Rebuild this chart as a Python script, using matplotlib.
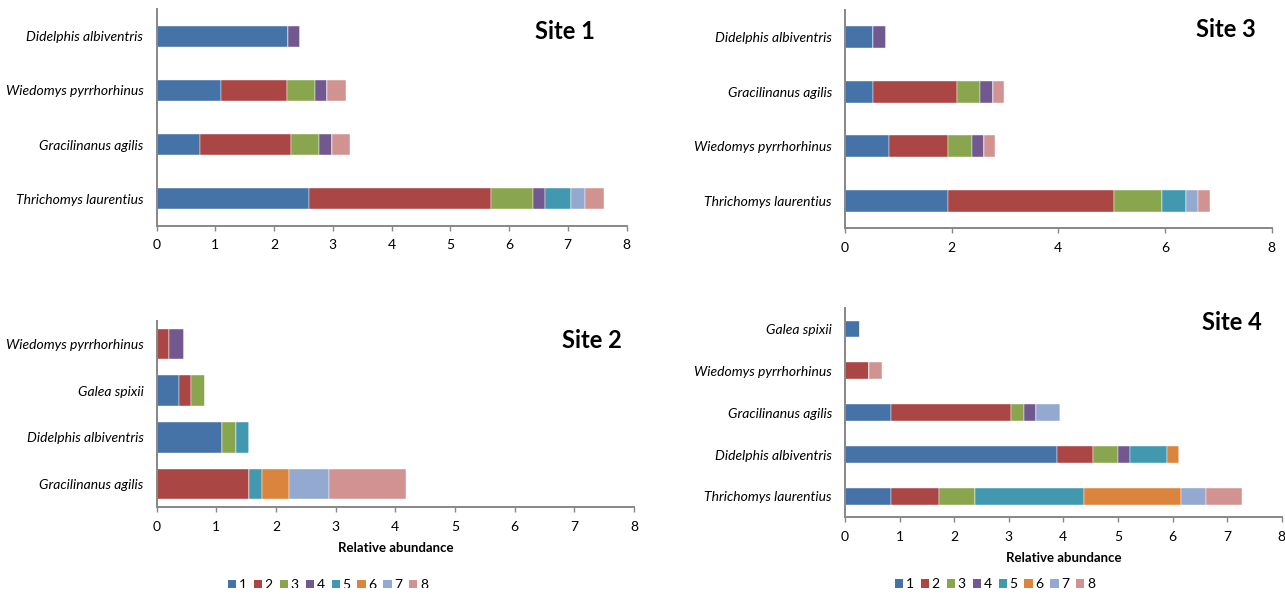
import matplotlib
matplotlib.use("Agg")
import matplotlib.pyplot as plt
from matplotlib.patches import Patch, Rectangle

plt.rcParams['font.family'] = ['Lato', 'DejaVu Sans']

W, H = 1285, 594
colors = ['#4572A7', '#AA4643', '#89A54E', '#71588F', '#4198AF', '#DB843D', '#93A9CF', '#D19392']
series_names = ['1', '2', '3', '4', '5', '6', '7', '8']

# ---- Site 1 (categories listed bottom to top) ----
site1_cats = ['Thrichomys laurentius', 'Gracilinanus agilis', 'Wiedomys pyrrhorhinus', 'Didelphis albiventris']
site1_s1 = [2.59, 0.74, 1.10, 2.23]
site1_s2 = [3.11, 1.55, 1.12, 0.00]
site1_s3 = [0.71, 0.47, 0.47, 0.00]
site1_s4 = [0.21, 0.22, 0.22, 0.21]
site1_s5 = [0.43, 0.00, 0.00, 0.00]
site1_s6 = [0.00, 0.00, 0.00, 0.00]
site1_s7 = [0.24, 0.00, 0.00, 0.00]
site1_s8 = [0.33, 0.32, 0.32, 0.00]

# ---- Site 3 ----
site3_cats = ['Thrichomys laurentius', 'Wiedomys pyrrhorhinus', 'Gracilinanus agilis', 'Didelphis albiventris']
site3_s1 = [1.94, 0.82, 0.53, 0.53]
site3_s2 = [3.11, 1.12, 1.57, 0.00]
site3_s3 = [0.90, 0.44, 0.44, 0.00]
site3_s4 = [0.00, 0.22, 0.23, 0.24]
site3_s5 = [0.45, 0.00, 0.00, 0.00]
site3_s6 = [0.00, 0.00, 0.00, 0.00]
site3_s7 = [0.22, 0.00, 0.00, 0.00]
site3_s8 = [0.22, 0.22, 0.22, 0.00]

# ---- Site 2 ----
site2_cats = ['Gracilinanus agilis', 'Didelphis albiventris', 'Galea spixii', 'Wiedomys pyrrhorhinus']
site2_s1 = [0.00, 1.10, 0.37, 0.00]
site2_s2 = [1.54, 0.00, 0.21, 0.21]
site2_s3 = [0.00, 0.23, 0.23, 0.00]
site2_s4 = [0.00, 0.00, 0.00, 0.24]
site2_s5 = [0.23, 0.22, 0.00, 0.00]
site2_s6 = [0.44, 0.00, 0.00, 0.00]
site2_s7 = [0.67, 0.00, 0.00, 0.00]
site2_s8 = [1.30, 0.00, 0.00, 0.00]

# ---- Site 4 ----
site4_cats = ['Thrichomys laurentius', 'Didelphis albiventris', 'Gracilinanus agilis', 'Wiedomys pyrrhorhinus', 'Galea spixii']
site4_s1 = [0.84, 3.89, 0.84, 0.00, 0.28]
site4_s2 = [0.89, 0.66, 2.21, 0.44, 0.00]
site4_s3 = [0.66, 0.46, 0.23, 0.00, 0.00]
site4_s4 = [0.00, 0.21, 0.22, 0.00, 0.00]
site4_s5 = [1.99, 0.67, 0.00, 0.00, 0.00]
site4_s6 = [1.78, 0.22, 0.00, 0.00, 0.00]
site4_s7 = [0.45, 0.00, 0.44, 0.00, 0.00]
site4_s8 = [0.67, 0.00, 0.00, 0.23, 0.00]

sites = [
    dict(title='Site 1', cats=site1_cats,
         series=[site1_s1, site1_s2, site1_s3, site1_s4, site1_s5, site1_s6, site1_s7, site1_s8],
         rect=(156.5, 626.5, 9.3, 225.7), step=1, height=0.4, xlabel=False, legend=False,
         title_xy=(565, 31.5)),
    dict(title='Site 3', cats=site3_cats,
         series=[site3_s1, site3_s2, site3_s3, site3_s4, site3_s5, site3_s6, site3_s7, site3_s8],
         rect=(845, 1271.5, 10, 228), step=2, height=0.4, xlabel=False, legend=False,
         title_xy=(1226, 29.5)),
    dict(title='Site 2', cats=site2_cats,
         series=[site2_s1, site2_s2, site2_s3, site2_s4, site2_s5, site2_s6, site2_s7, site2_s8],
         rect=(156.7, 634, 320.7, 507.3), step=1, height=0.66, xlabel=True, legend=True,
         title_xy=(592, 340.5), legend_xy=(328, 585)),
    dict(title='Site 4', cats=site4_cats,
         series=[site4_s1, site4_s2, site4_s3, site4_s4, site4_s5, site4_s6, site4_s7, site4_s8],
         rect=(845, 1281.7, 308, 517.3), step=1, height=0.4, xlabel=True, legend=True,
         title_xy=(1232, 322), legend_xy=(995, 584)),
]

fig = plt.figure(figsize=(W / 100, H / 100), dpi=100)
spine_col = '#878787'

for s in sites:
    l, r, t, b = s['rect']
    ax = fig.add_axes([l / W, 1 - b / H, (r - l) / W, (b - t) / H])
    ypos = list(range(len(s['cats'])))
    left = [0.0] * len(ypos)
    for i, vals in enumerate(s['series']):
        ax.barh(ypos, vals, left=left, height=s['height'], color=colors[i],
                edgecolor='white', linewidth=0.3, label=series_names[i])
        left = [a + v for a, v in zip(left, vals)]
    ax.set_xlim(0, 8)
    ax.set_ylim(-0.5, len(ypos) - 0.5)
    ax.set_xticks(range(0, 9, s['step']))
    ax.set_yticks(ypos)
    ax.set_yticklabels(s['cats'], fontstyle='italic', fontsize=10)
    for sp in ['top', 'right']:
        ax.spines[sp].set_visible(False)
    for sp in ['left', 'bottom']:
        ax.spines[sp].set_color(spine_col)
        ax.spines[sp].set_linewidth(1.4)
    ax.tick_params(axis='y', length=0, pad=9.5)
    ax.tick_params(axis='x', length=3.3, width=1, color=spine_col, pad=6.5, labelsize=10)
    ax.set_facecolor('none')
    if s['xlabel']:
        ax.set_xlabel('Relative abundance', fontsize=9.5, fontweight='bold', labelpad=6.5)
    fig.text(s['title_xy'][0] / W, 1 - s['title_xy'][1] / H, s['title'],
             fontsize=17, fontweight='bold', ha='center', va='center')
    if s['legend']:
        handles = [Patch(facecolor=colors[i], edgecolor='none', label=series_names[i]) for i in range(8)]
        fig.legend(handles=handles, loc='center',
                   bbox_to_anchor=(s['legend_xy'][0] / W, 1 - s['legend_xy'][1] / H),
                   ncol=8, frameon=False, fontsize=10, handlelength=0.6, handleheight=0.6,
                   handletextpad=0.18, columnspacing=0.5, borderpad=0)

# left-bottom panel image is cropped just below its legend line
fig.patches.append(Rectangle((0, 0), 640 / W, (H - 588) / H, transform=fig.transFigure,
                             facecolor='white', edgecolor='none', zorder=20))

fig.savefig('out.png', dpi=100)
